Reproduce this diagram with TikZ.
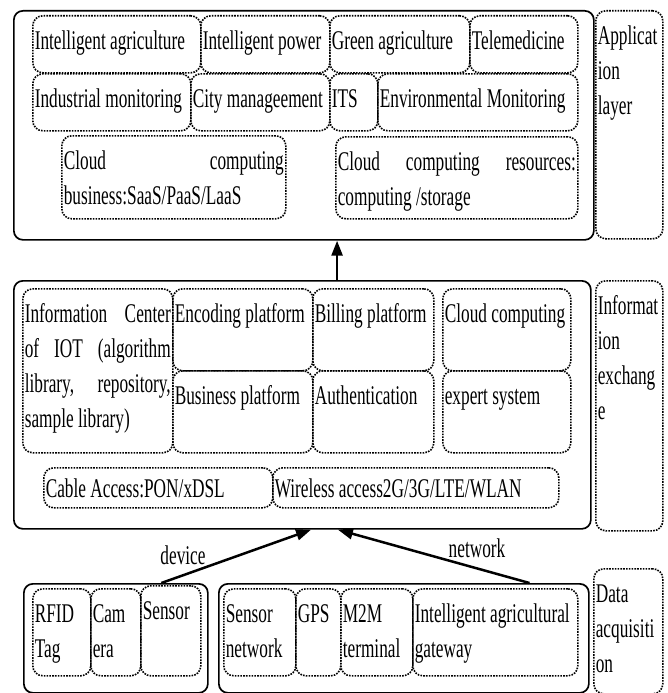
\documentclass[tikz,border=0pt]{standalone}
\usepackage{fontspec}
\setmainfont{Liberation Serif}[FakeStretch=0.64]
\usetikzlibrary{arrows.meta,positioning,calc}
\hyphenpenalty=10000
\exhyphenpenalty=10000
\newcommand\layerfont{\fontsize{27}{35}\selectfont\spaceskip=4.3pt plus 3pt minus 1pt\relax}

\tikzset{
  layer/.style={draw, line width=1.7pt, rounded corners=9pt, anchor=north west, inner sep=0pt},
  cell/.style 2 args={draw, line width=1.6pt, dash pattern=on 1.6pt off 1.2pt, rounded corners=10pt,
    anchor=north west, inner xsep=2pt, inner ysep=0pt, text height=34pt,
    /utils/exec={\pgfmathsetmacro\cellwd{#1-4}\pgfmathsetmacro\celldp{#2-34}},
    text width=\cellwd pt, text depth=\celldp pt,
    execute at begin node={\spaceskip=4.3pt plus 3pt minus 1pt\relax}},
  flow/.style={line width=2.5pt, -{Triangle[length=15pt,width=11pt]}},
}

\begin{document}
\begin{tikzpicture}[x=1pt, y=-1pt, every node/.style={font=\layerfont}]
  \useasboundingbox (0,0) rectangle (668,693);

  % Application layer
  \node[layer, minimum width=580pt, minimum height=229pt] (app) at (13,10) {};
  \node[cell={168}{57}] (agri) at (32,15) {Intelligent agriculture};
  \node[cell={129}{57}] (power) at (200,15) {Intelligent power};
  \node[cell={140}{57}] (green) at (329,15) {Green agriculture};
  \node[cell={108}{57}] (tele) at (469,15) {Telemedicine};
  \node[cell={158}{57}] (indus) at (32,73) {Industrial monitoring};
  \node[cell={139}{57}] (city) at (190,73) {City manageement};
  \node[cell={48}{57}] (its) at (329,73) {ITS};
  \node[cell={200}{57}] (env) at (377,73) {Environmental Monitoring};
  \node[cell={224}{83}] (saas) at (61,135) {Cloud\hfill computing\\business:SaaS/PaaS/LaaS};
  \node[cell={242}{82}] (res) at (335,136) {Cloud\hfill computing\hfill resources:\\computing /storage};
  \node[cell={67}{228}] (applbl) at (595,10) {Applicat\\ion\\layer};

  % Information exchange
  \node[layer, minimum width=577pt, minimum height=248pt] (exch) at (13,280) {};
  \node[cell={150}{164}] (infoc) at (22,288) {Information\hfill Center\\of\hfill IOT\hfill (algorithm\\library,\hfill repository,\\sample library)};
  \node[cell={140}{82}] (enc) at (172,288) {Encoding platform};
  \node[cell={140}{82}] (bus) at (172,370) {Business platform};
  \node[cell={121}{82}] (bill) at (312,288) {Billing platform};
  \node[cell={121}{82}] (auth) at (312,370) {Authentication};
  \node[cell={128}{82}] (cloud) at (442,288) {Cloud computing};
  \node[cell={128}{82}] (expert) at (442,370) {expert system};
  \node[cell={229}{40}, text height=30pt, text depth=10pt] (cable) at (43,467) {Cable Access:PON/xDSL};
  \node[cell={286}{40}, text height=30pt, text depth=10pt] (wless) at (272,467) {Wireless access2G/3G/LTE/WLAN};
  \node[cell={67}{250}] (exlbl) at (595,280) {Informat\\ion\\exchang\\e};

  % Data acquisition
  \node[layer, minimum width=184pt, minimum height=109pt] (dev) at (23,583) {};
  \node[layer, minimum width=370pt, minimum height=109pt] (net) at (218,583) {};
  \node[cell={58}{87}] (rfid) at (32,588) {RFID\\Tag};
  \node[cell={50}{87}] (cam) at (90,588) {Cam\\era};
  \node[cell={60}{90}] (sensor) at (140,585) {Sensor};
  \node[cell={72}{87}] (snet) at (223,588) {Sensor\\network};
  \node[cell={45}{87}] (gps) at (295,588) {GPS};
  \node[cell={72}{87}] (m2m) at (340,588) {M2M\\terminal};
  \node[cell={165}{87}] (gate) at (412,588) {Intelligent agricultural\\gateway};
  \node[cell={69}{125}] (aclbl) at (593,568) {Data\\acquisiti\\on};

  % Arrows
  \coordinate (up) at ($(exch.north west)!0.56!(exch.north east)$);
  \draw[flow] (up) -- (up |- app.south);
  \draw[flow] ($(dev.north west)!0.745!(dev.north east)$) -- ($(exch.south west)!0.515!(exch.south east)$);
  \draw[flow] ($(net.north west)!0.838!(net.north east)$) -- ($(exch.south west)!0.5615!(exch.south east)$);
  \node (devlbl) at (183,555) {device};
  \node (netlbl) at (477,548) {network};
\end{tikzpicture}
\end{document}
